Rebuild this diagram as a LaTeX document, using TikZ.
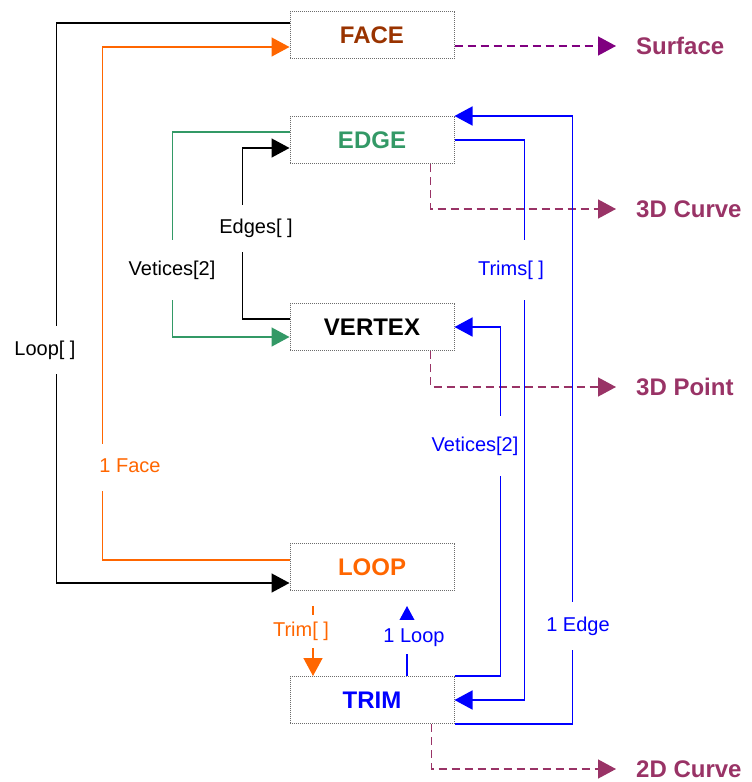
\documentclass[tikz,border=0pt]{standalone}
\usepackage{fontspec}
\setmainfont{Liberation Sans}
\usetikzlibrary{arrows.meta,positioning}
\definecolor{facebrown}{HTML}{993300}
\definecolor{edgegreen}{HTML}{339966}
\definecolor{looporange}{HTML}{FF6600}
\definecolor{trimblue}{HTML}{0000FF}
\definecolor{geomred}{HTML}{993366}
\definecolor{surfpurple}{HTML}{800080}

\begin{document}
\begin{tikzpicture}[x=1pt, y=-1pt,
    entity/.style={draw=gray!85!black, densely dotted, line width=1pt, minimum width=164pt, minimum height=47pt, font=\fontsize{24}{28}\selectfont\bfseries},
    tag/.style={fill=white, inner xsep=1pt, text height=15pt, text depth=5pt, font=\fontsize{20}{24}\selectfont},
    geom/.style={anchor=west, inner xsep=20pt, inner ysep=0pt, text=geomred, font=\fontsize{24}{28}\selectfont\bfseries},
    link/.style={-{Triangle[length=18pt, width=19pt]}, line width=1.5pt},
    maps/.style={link, dash pattern=on 8pt off 5pt, line width=1.4pt, geomred}
]
\useasboundingbox (0,0) rectangle (752,782);

\node[entity, text=facebrown] (face) at (372,35) {FACE};
\node[entity, text=edgegreen] (edge) at (372,140) {EDGE};
\node[entity] (vertex) at (372,327) {VERTEX};
\node[entity, text=looporange] (loop) at (372,567) {LOOP};
\node[entity, text=trimblue] (trim) at (372,700) {TRIM};

\node[geom] (surface) at (616,46) {Surface};
\node[geom] (curve3d) at (616,209) {3D Curve};
\node[geom] (point3d) at (616,387) {3D Point};
\node[geom] (curve2d) at (616,769) {2D Curve};

\draw[maps, surfpurple] ([yshift=-11pt]face.east) -- (surface.west);
\draw[maps] ([xshift=-24pt]edge.south east) |- (curve3d.west);
\draw[maps] ([xshift=-24pt]vertex.south east) |- (point3d.west);
\draw[maps] ([xshift=-23pt]trim.south east) |- (curve2d.west);

\draw[link] ([yshift=12pt]face.west) -- ++(-233,0) |- ([yshift=-16pt]loop.west);
\draw[link, looporange] ([yshift=7pt]loop.west) -- ++(-187,0) |- ([yshift=-12pt]face.west);
\draw[link, edgegreen] ([yshift=8pt]edge.west) -- ++(-117,0) |- ([yshift=-10pt]vertex.west);
\draw[link] ([yshift=8pt]vertex.west) -- ++(-47,0) |- ([yshift=-8pt]edge.west);
\draw[link, trimblue] (trim.south east) -- ++(118,0) |- (edge.north east);
\draw[link, trimblue] (edge.east) -- ++(70,0) |- (trim.east);
\draw[link, trimblue] (trim.north east) -- ++(46,0) |- (vertex.east);
\draw[link, trimblue] ([xshift=35pt]trim.north) -- ([xshift=35pt, yshift=-15pt]loop.south);
\draw[link, looporange] ([xshift=-59pt, yshift=-15pt]loop.south) -- ([xshift=-59pt]trim.north);

\node[tag, inner ysep=14pt] (tloops) at (45,350) {Loop[ ]};
\node[tag, inner ysep=13.5pt, text=looporange] (tface) at (130,467) {1 Face};
\node[tag, inner ysep=20pt] (tvertices) at (172,270) {Vetices[2]};
\node[tag, inner ysep=13.5pt] (tedges) at (256,228) {Edges[ ]};
\node[tag, inner ysep=20pt, text=trimblue] (ttrims) at (511,270) {Trims[ ]};
\node[tag, inner ysep=20pt, inner xsep=0pt, text=trimblue] (tvertsb) at (475,446) {Vetices[2]};
\node[tag, inner ysep=14pt, text=trimblue] (tedge) at (578,626) {1 Edge};
\node[tag, inner ysep=7pt, text=trimblue] (tloop) at (414,637) {1 Loop};
\node[tag, inner ysep=6.5pt, text=looporange] (ttrim) at (301,631) {Trim[ ]};
\end{tikzpicture}
\end{document}
